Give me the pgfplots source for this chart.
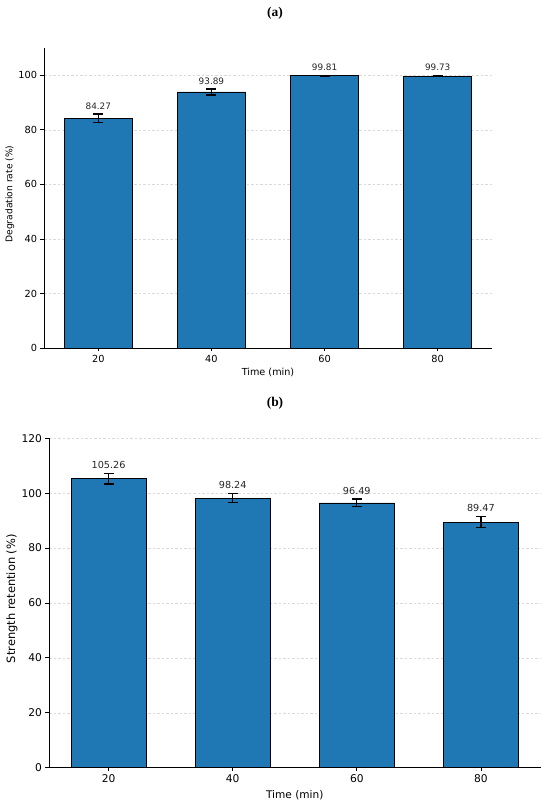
\documentclass[border=0pt]{standalone}
\usepackage{fontspec}
\setsansfont{DejaVu Sans}
\newfontfamily\titlefont{Liberation Serif}
\renewcommand{\familydefault}{\sfdefault}
\usepackage{pgfplots}
\usepackage{pgfplotstable}
\pgfplotsset{compat=1.18}
\definecolor{barblue}{HTML}{1F77B4}

\pgfplotstableread{
x h e
0 84.27 1.5
1 93.89 1.1
2 99.81 0.2
3 99.73 0.2
}\dataA
\pgfplotstableread{
x h e
0 105.26 1.9
1 98.24 1.6
2 96.49 1.4
3 89.47 2.0
}\dataB

\pgfplotsset{
  mystyle/.style={
    scale only axis,
    axis x line=bottom, axis y line=left,
    axis line style={-, line width=0.8bp, black},
    tick align=outside, major tick length=3.5bp,
    tick style={black, line width=0.8bp},
    ymajorgrids, grid style={dash pattern=on 2.5bp off 2bp, gray!30, line width=0.5bp},
    xtick={0,1,2,3}, xticklabels={20,40,60,80},
    xmin=-0.48, xmax=3.48, ymin=0,
    /pgf/number format/assume math mode=true,
    clip=false,
  },
  barstyle/.style={
    ybar, bar width=0.6, bar shift=0pt, fill=barblue, draw=black, line width=0.6bp,
    error bars/.cd, y dir=both, y explicit,
    error bar style={black, line width=1.2bp},
    error mark options={rotate=90, mark size=5bp, line width=1.2bp, black},
  },
  labstyle/.style={
    draw=none, mark=none, nodes near coords={\pgfmathprintnumber[fixed,fixed zerofill,precision=2,assume math mode=true]{\pgfplotspointmeta}},
    point meta=explicit,
    nodes near coords style={anchor=south, font=#1, yshift=1bp, text=black!85},
  },
}

\begin{document}
\begin{tikzpicture}
\path[use as bounding box] (0,0) rectangle (550bp,805bp);

\node[font=\titlefont\bfseries\fontsize{13.5}{15}\selectfont] at (275bp,791.5bp) {(a)};
\node[font=\titlefont\bfseries\fontsize{13.5}{15}\selectfont] at (275bp,402bp) {(b)};

\begin{axis}[mystyle,
  at={(44bp,457bp)}, anchor=south west,
  width=448bp, height=300bp,
  ymax=110, ytick={0,20,40,60,80,100},
  ticklabel style={font=\fontsize{9.8}{11}\selectfont},
  xlabel={Time (min)}, ylabel={Degradation rate (\%)},
  xlabel style={at={(axis description cs:0.5,-0.083)}, anchor=center, font=\fontsize{9.7}{11}\selectfont},
  ylabel style={at={(axis description cs:-0.076,0.513)}, anchor=center, font=\fontsize{9.2}{11}\selectfont},
]
\addplot[barstyle] table[x=x, y=h, y error=e]{\dataA};
\addplot[labstyle={\fontsize{8.9}{10}\selectfont}] table[x=x, y expr=\thisrow{h}+\thisrow{e}, meta=h]{\dataA};
\end{axis}

\begin{axis}[mystyle,
  at={(49bp,37.3bp)}, anchor=south west,
  width=491.5bp, height=329.4bp,
  ymax=120, ytick={0,20,40,60,80,100,120},
  ticklabel style={font=\fontsize{10.7}{12}\selectfont},
  xlabel={Time (min)}, ylabel={Strength retention (\%)},
  xlabel style={at={(axis description cs:0.5,-0.083)}, anchor=center, font=\fontsize{10.6}{12}\selectfont},
  ylabel style={at={(axis description cs:-0.0753,0.513)}, anchor=center, font=\fontsize{11.5}{13}\selectfont},
]
\addplot[barstyle] table[x=x, y=h, y error=e]{\dataB};
\addplot[labstyle={\fontsize{9.7}{11}\selectfont}] table[x=x, y expr=\thisrow{h}+\thisrow{e}, meta=h]{\dataB};
\end{axis}
\end{tikzpicture}
\end{document}
